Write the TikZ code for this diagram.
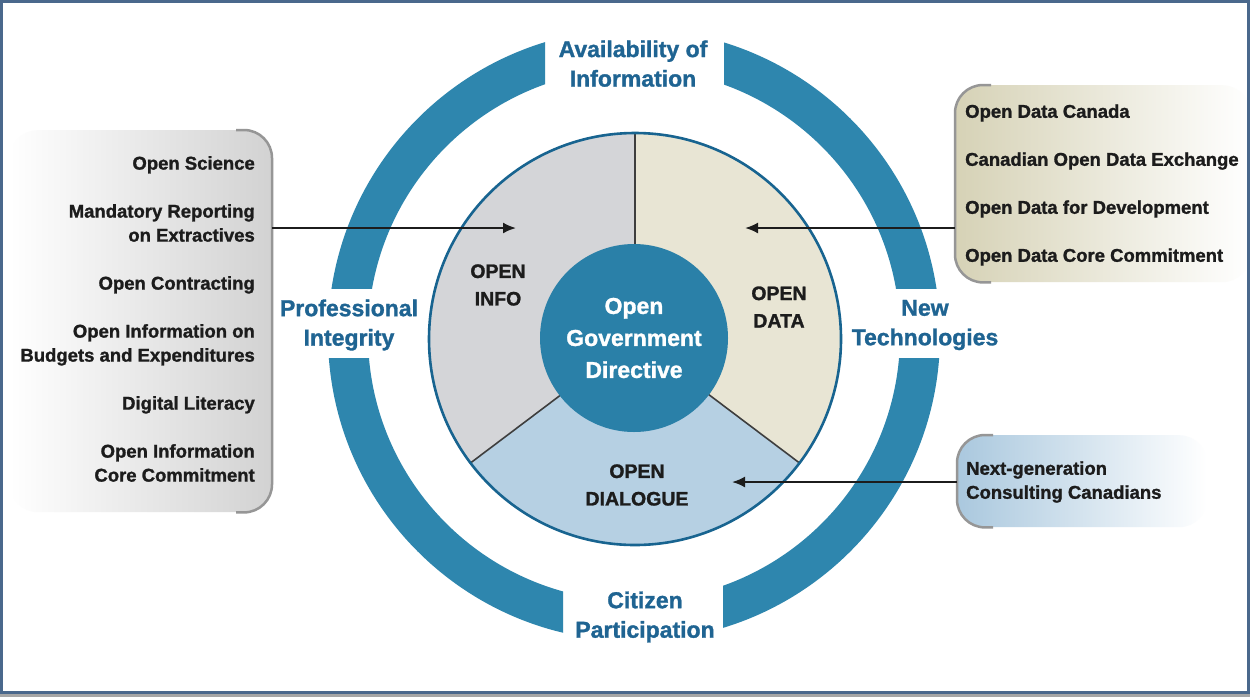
\documentclass[tikz,border=0pt]{standalone}
\usepackage{fontspec}
\setmainfont{Liberation Sans}[BoldFeatures={FakeBold=1.3}]
\usetikzlibrary{arrows.meta}
\definecolor{ringblue}{RGB}{46,134,174}
\definecolor{hubblue}{RGB}{42,128,168}
\definecolor{labelblue}{RGB}{31,100,146}
\definecolor{pieedge}{RGB}{24,100,144}
\definecolor{infofill}{RGB}{212,213,216}
\definecolor{datafill}{RGB}{232,229,212}
\definecolor{talkfill}{RGB}{182,208,227}
\definecolor{infoshade}{RGB}{210,210,210}
\definecolor{datashade}{RGB}{214,210,182}
\definecolor{talkshade}{RGB}{170,200,222}
\definecolor{edgegray}{RGB}{150,150,150}
\definecolor{inkblack}{RGB}{28,28,28}
\definecolor{framecol}{RGB}{74,104,140}
\begin{document}
\begin{tikzpicture}[x=1pt,y=1pt,
  ringlabel/.style={text=labelblue,font=\bfseries\fontsize{23}{29.5}\selectfont,align=center,inner sep=0},
  sectorlabel/.style={text=inkblack,font=\bfseries\fontsize{19.5}{27.5}\selectfont,align=center,inner sep=0},
  listtext/.style={text=inkblack,font=\bfseries\fontsize{18.5}{24}\selectfont,inner sep=0},
  listbox/.style={rounded corners=28pt,inner sep=0,minimum width=#1},
  boxedge/.style={draw=edgegray,line width=2.5pt,rounded corners=28pt},
  feed/.style={draw=inkblack,line width=2pt,-{Latex[length=13pt,width=11pt]}}]
\useasboundingbox (0,0) rectangle (1250,-697);
\fill[white] (0,0) rectangle (1250,-697);
% outer ring, cut in four
\coordinate (ring) at (634,-335);
\foreach \ax/\ay/\bx/\by in {0/0/545/288,724/0/1250/288,0/358/563/697,723/358/1250/697}{
\begin{scope}
\clip (\ax,-\ay) rectangle (\bx,-\by);
\fill[ringblue,even odd rule] (ring) circle (306) (ring) circle (266);
\end{scope}}
% pie
\coordinate (hub) at (635,-339);
\fill[infofill] (hub) -- ++(90:206) arc (90:217:206) -- cycle;
\fill[datafill] (hub) -- ++(-37:206) arc (-37:90:206) -- cycle;
\fill[talkfill] (hub) -- ++(217:206) arc (217:323:206) -- cycle;
\foreach \a in {90,217,323} \draw[inkblack!85,line width=1.6pt] (hub) -- ++(\a:206);
\draw[pieedge,line width=2.6pt] (hub) circle (206);
\node[circle,fill=hubblue,minimum size=188pt,inner sep=0,text=white,align=center,
  font=\bfseries\fontsize{23}{32}\selectfont] (hubnode) at (634,-338) {Open\\Government\\Directive};
\node[sectorlabel] (infolabel) at (498,-285) {OPEN\\INFO};
\node[sectorlabel] (datalabel) at (779,-307) {OPEN\\DATA};
\node[sectorlabel] (talklabel) at (637,-485) {OPEN\\DIALOGUE};
\node[ringlabel,text depth=0pt] (availlabel) at (633,-63.5) {Availability of\\Information};
\node[ringlabel] (integlabel) at (349,-325) {Professional\\Integrity};
\node[ringlabel] (techlabel) at (925,-325) {New\\Technologies};
\node[ringlabel] (citlabel) at (645,-617) {Citizen\\Participation};
% side boxes
\node[listbox=262pt,minimum height=382pt,left color=white,right color=infoshade,anchor=north east] (infobox) at (272,-130) {};
\node[listbox=295pt,minimum height=197pt,left color=datashade,right color=white,anchor=north west] (databox) at (955,-85) {};
\node[listbox=250pt,minimum height=92pt,left color=talkshade,right color=white,anchor=north west] (talkbox) at (957,-435) {};
\draw[boxedge] ([xshift=-36pt]infobox.north east) -- (infobox.north east) -- (infobox.south east) -- ([xshift=-36pt]infobox.south east);
\draw[boxedge] ([xshift=36pt]databox.north west) -- (databox.north west) -- (databox.south west) -- ([xshift=36pt]databox.south west);
\draw[boxedge] ([xshift=36pt]talkbox.north west) -- (talkbox.north west) -- (talkbox.south west) -- ([xshift=36pt]talkbox.south west);
\node[listtext,align=right,anchor=east] (infolist) at (255,-319) {Open Science\\[24pt]Mandatory Reporting\\on Extractives\\[24pt]Open Contracting\\[24pt]Open Information on\\Budgets and Expenditures\\[24pt]Digital Literacy\\[24pt]Open Information\\Core Commitment};
\node[listtext,align=left,anchor=west] (datalist) at (965,-185) {Open Data Canada\\[24pt]Canadian Open Data Exchange\\[24pt]Open Data for Development\\[24pt]Open Data Core Commitment};
\node[listtext,align=left,anchor=west] (talklist) at (966,-482) {Next-generation\\Consulting Canadians};
% arrows into the pie
\coordinate (infotip) at (516,-228);
\coordinate (datatip) at (745,-228);
\coordinate (talktip) at (732,-482);
\draw[feed] (infobox.east |- infotip) -- (infotip);
\draw[feed] (databox.west |- datatip) -- (datatip);
\draw[feed] (talkbox.west |- talktip) -- (talktip);
% frame
\fill[black!35] (0,-694) rectangle (1250,-697);
\draw[framecol,line width=3pt] (1.5,-1.5) rectangle (1248.5,-692.5);
\end{tikzpicture}
\end{document}
